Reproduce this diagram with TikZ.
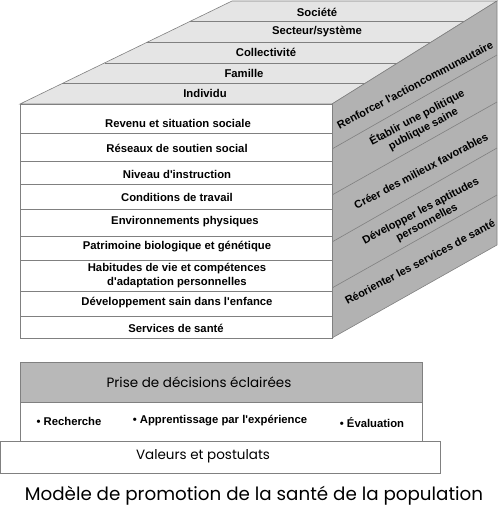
\documentclass[tikz,border=0pt]{standalone}
\usepackage{fontspec}
\setmainfont{Liberation Sans}
\newfontfamily\gothic{Poppins}
\usetikzlibrary{calc}
\tikzset{
	edge/.style={line width=0.6pt, color=black!50},
	lbl/.style={font=\fontsize{11.3}{14}\selectfont\bfseries, inner sep=0pt, align=center},
	sidelbl/.style={font=\fontsize{11}{13}\selectfont\bfseries, inner sep=0pt, align=center, rotate=28},
	goth/.style={font=\gothic\fontsize{13.5}{16}\selectfont, inner sep=0pt}
}
\def\apos{\textquotesingle}

\begin{document}
\begin{tikzpicture}[x=1pt, y=-1pt]
			%%%%% START %%%%%
			\useasboundingbox (0, 0) rectangle (500, 507);
			
			% top face
			\draw[edge, fill=black!10] (20, 104) -- (232, 1) -- (497, 1) -- (332, 104) -- cycle;
			\draw[edge] ($(20, 104)!0.2!(232, 1)$) -- ($(332, 104)!0.2!(497, 1)$);
			\draw[edge] ($(20, 104)!0.4!(232, 1)$) -- ($(332, 104)!0.4!(497, 1)$);
			\draw[edge] ($(20, 104)!0.6!(232, 1)$) -- ($(332, 104)!0.6!(497, 1)$);
			\draw[edge] ($(20, 104)!0.8!(232, 1)$) -- ($(332, 104)!0.8!(497, 1)$);
			
			\node[lbl] (societe) at (317, 12) {Société};
			\node[lbl] (secteur) at (317, 32) {Secteur/système};
			\node[lbl] (collectivite) at (266, 52) {Collectivité};
			\node[lbl] (famille) at (244, 73) {Famille};
			\node[lbl] (individu) at (205, 93) {Individu};
			
			% side face
			\draw[edge, fill=black!30] (332, 104) -- (497, 1) -- (497, 245) -- (332, 338) -- cycle;
			\draw[edge](332, 149) -- (497, 55);
			\draw[edge](332, 195) -- (497, 102);
			\draw[edge](332, 242) -- (497, 148);
			\draw[edge](332, 288) -- (497, 195);
			
			\node[sidelbl] (renforcer) at (415, 85) {Renforcer l\apos actioncommunautaire};
			\node[sidelbl] (politique) at (420, 123) {Établir une politique\\publique saine};
			\node[sidelbl] (milieux) at (421, 171) {Créer des milieux favorables};
			\node[sidelbl] (aptitudes) at (424, 217) {Développer les aptitudes\\personnelles};
			\node[sidelbl] (services) at (420, 262) {Réorienter les services de santé};
			
			% front face
			\draw[edge, fill=white] (20, 104) rectangle (332, 338);
			\draw[edge](20, 133) -- (332, 133);
			\draw[edge](20, 161) -- (332, 161);
			\draw[edge](20, 184) -- (332, 184);
			\draw[edge](20, 209) -- (332, 209);
			\draw[edge](20, 236) -- (332, 236);
			\draw[edge](20, 260) -- (332, 260);
			\draw[edge](20, 291) -- (332, 291);
			\draw[edge](20, 316) -- (332, 316);
			
			\node[lbl] (revenu) at (178, 123) {Revenu et situation sociale};
			\node[lbl] (reseaux) at (177, 148) {Réseaux de soutien social};
			\node[lbl] (niveau) at (177, 174) {Niveau d\apos instruction};
			\node[lbl] (conditions) at (177, 197) {Conditions de travail};
			\node[lbl] (environnements) at (185, 222) {Environnements physiques};
			\node[lbl] (patrimoine) at (177, 247) {Patrimoine biologique et génétique};
			\node[lbl, font=\fontsize{11.3}{14.5}\selectfont\bfseries] (habitudes) at (177, 275.5) {Habitudes de vie et compétences\\d\apos adaptation personnelles};
			\node[lbl] (developpement) at (177, 303) {Développement sain dans l\apos enfance};
			\node[lbl] (sante) at (176, 328) {Services de santé};
			
			% base
			\draw[edge, fill=black!28] (20, 362) rectangle (422, 402);
			\draw[edge, fill=white] (20, 402) rectangle (422, 441);
			\draw[edge, fill=white] (0.3, 441) rectangle (440, 473);
			
			\node[goth] (decisions) at (199, 382) {Prise de décisions éclairées};
			\node[lbl] (recherche) at (69, 421) {• Recherche};
			\node[lbl] (apprentissage) at (220, 421) {• Apprentissage par l\apos expérience};
			\node[lbl] (evaluation) at (372, 423) {• Évaluation};
			\node[goth] (valeurs) at (203, 456) {Valeurs et postulats};
			
			\node[goth, font=\gothic\fontsize{18.3}{20}\selectfont] (titre) at (254, 496) {Modèle de promotion de la santé de la population};
			%%%%% END %%%%%
\end{tikzpicture}
\end{document}
